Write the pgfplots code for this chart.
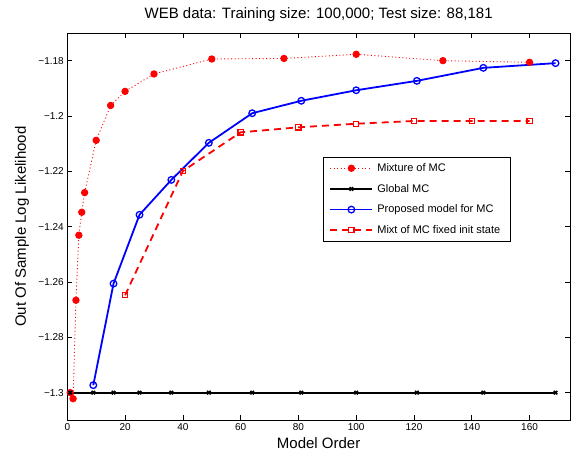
\documentclass[border=0pt]{standalone}
\usepackage{pgfplots}
\pgfplotsset{compat=1.18}
\usepackage{fontspec}
\setmainfont{Liberation Sans}

\begin{document}
\begin{tikzpicture}
\begin{axis}[
    scale only axis,
    width=502.7pt, height=387.3pt,
    xmin=0, xmax=174, ymin=-1.31, ymax=-1.17,
    xtick={0,20,40,60,80,100,120,140,160},
    ytick={-1.3,-1.28,-1.26,-1.24,-1.22,-1.2,-1.18},
    yticklabels={−1.3,−1.28,−1.26,−1.24,−1.22,−1.2,−1.18},
    tick align=inside, tick pos=both,
    major tick length=5pt,
    axis line style={line width=0.8pt},
    every tick/.style={black, line width=0.6pt},
    ticklabel style={font=\fontsize{10}{12}\selectfont},
    /pgf/number format/assume math mode=true,
    title={WEB data: Training size: 100,000; Test size: 88,181},
    title style={font=\fontsize{15}{18}\selectfont, at={(axis description cs:0.5,1.0232)}, anchor=base},
    xlabel={Model Order},
    xlabel style={font=\fontsize{15}{18}\selectfont, at={(axis description cs:0.5,-0.0741)}, anchor=base},
    ylabel={Out Of Sample Log Likelihood},
    ylabel style={font=\fontsize{15}{18}\selectfont, at={(axis description cs:-0.0822,0.5)}, anchor=base, rotate=0},
    legend style={at={(0.509,0.679)}, anchor=north west, draw=black,
        font=\fontsize{11}{13}\selectfont, row sep=7.2pt, inner xsep=6pt, inner ysep=4pt,
        nodes={inner xsep=4pt}},
    legend cell align=left,
    legend image code/.code={\draw[mark repeat=2,mark phase=2] plot coordinates {(0pt,0pt) (21pt,0pt) (42pt,0pt)};},
]
% Mixture of MC
\addplot[red, line width=0.9pt, dash pattern=on 1pt off 2.5pt, mark=*, mark size=3.2pt,
    mark options={solid, fill=red, draw=red}] coordinates {
    (1,-1.3) (2,-1.3022) (3,-1.2666) (4,-1.2431) (5,-1.2348) (6,-1.2277)
    (10,-1.2088) (15,-1.1962) (20,-1.1911) (30,-1.1848) (50,-1.1794)
    (75,-1.1792) (100,-1.1777) (130,-1.1800) (160,-1.1806)
};
\addlegendentry{Mixture of MC}

% Global MC
\addplot[black, line width=2pt, mark=x, mark size=2.5pt, mark options={solid, line width=1.6pt}] coordinates {
    (1,-1.3) (9,-1.3) (16,-1.3) (25,-1.3) (36,-1.3) (49,-1.3)
    (64,-1.3) (81,-1.3) (100,-1.3) (121,-1.3) (144,-1.3) (169,-1.3)
};
\addlegendentry{Global MC}

% Proposed model for MC
\addplot[blue, line width=1.8pt, mark=o, mark size=3.3pt, mark options={solid, line width=1.3pt}] coordinates {
    (9,-1.2973) (16,-1.2606) (25,-1.2357) (36,-1.2231) (49,-1.2097)
    (64,-1.1990) (81,-1.1945) (100,-1.1907) (121,-1.1873) (144,-1.1826) (169,-1.1809)
};
\addlegendentry{Proposed model for MC}

% Mixt of MC fixed init state
\addplot[red, line width=1.8pt, dash pattern=on 7pt off 5pt, mark=square, mark size=2.6pt,
    mark options={solid, fill=white, line width=1.2pt}] coordinates {
    (20,-1.2648) (40,-1.2199) (60,-1.2059) (80,-1.2041) (100,-1.2028)
    (120,-1.2018) (140,-1.2018) (160,-1.2018)
};
\addlegendentry{Mixt of MC fixed init state}
\end{axis}
\pgfresetboundingbox
\useasboundingbox ([xshift=-67.3pt,yshift=-34.7pt]current axis.south west) rectangle ([xshift=1pt,yshift=33pt]current axis.north east);
\end{tikzpicture}
\end{document}
